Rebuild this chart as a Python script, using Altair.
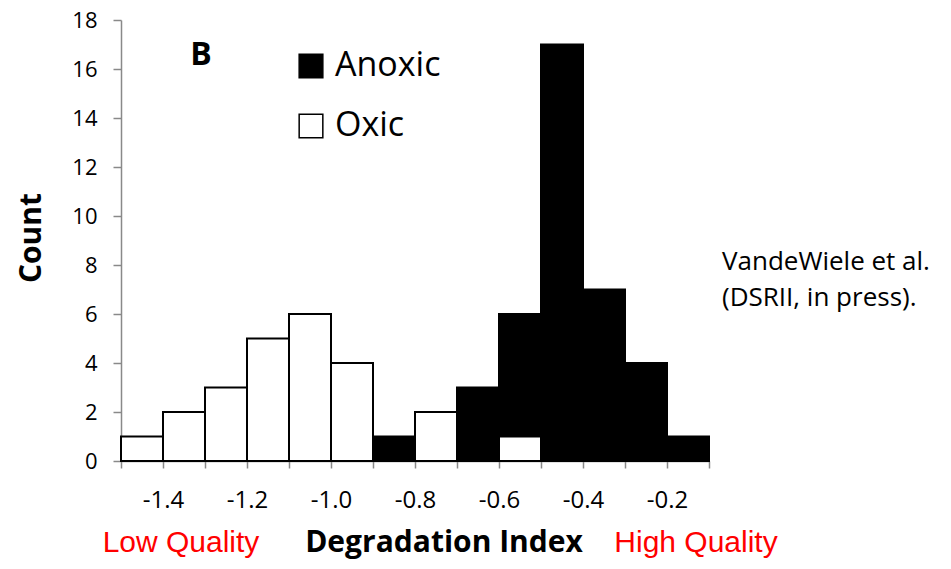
import altair as alt
import pandas as pd

bin_start = [-1.5, -1.4, -1.3, -1.2, -1.1, -1.0, -0.9, -0.8, -0.7, -0.6, -0.5, -0.4, -0.3, -0.2]
anoxic = [0, 0, 0, 0, 0, 0, 1, 0, 3, 6, 17, 7, 4, 1]
oxic = [1, 2, 3, 5, 6, 4, 0, 2, 0, 1, 0, 0, 0, 0]
x_ticks = [-1.5, -1.4, -1.3, -1.2, -1.1, -1.0, -0.9, -0.8, -0.7, -0.6, -0.5, -0.4, -0.3, -0.2, -0.1]
y_ticks = [0, 2, 4, 6, 8, 10, 12, 14, 16, 18]

rows = []
for cond, vals in (("Anoxic", anoxic), ("Oxic", oxic)):
    for s, v in zip(bin_start, vals):
        if v > 0:
            rows.append({"cond": cond, "start": s, "end": round(s + 0.1, 1), "count": v})
df = pd.DataFrame(rows)

W, H = 588, 441
FONT = "Open Sans"

bars = alt.Chart(df).mark_bar(stroke="black", strokeWidth=2).encode(
    x=alt.X("start:Q", scale=alt.Scale(domain=[-1.5, -0.1], nice=False, zero=False),
            axis=alt.Axis(values=x_ticks, title=None, grid=False,
                          labelExpr="(round(datum.value*10) % 2 == 0) ? replace(format(datum.value, '.1f'), '\u2212', '-') : ''",
                          tickSize=7, labelPadding=20, labelFontSize=24, labelFont=FONT,
                          labelColor="black", domainColor="#898989", tickColor="#898989",
                          domainWidth=1.5, tickWidth=1.5, labelFlush=False)),
    x2="end:Q",
    y=alt.Y("count:Q", stack=None, scale=alt.Scale(domain=[0, 18], nice=False),
            axis=alt.Axis(values=y_ticks, title=None, grid=False, tickSize=8,
                          labelPadding=16, labelFontSize=22, labelFont=FONT,
                          labelColor="black", domainColor="#898989", tickColor="#898989",
                          domainWidth=1.5, tickWidth=1.5)),
    y2=alt.Y2(datum=0),
    color=alt.Color("cond:N", scale=alt.Scale(domain=["Anoxic", "Oxic"], range=["black", "white"]),
                    legend=alt.Legend(title=None, orient="none", legendX=173, legendY=29,
                                      symbolType="square", symbolSize=560,
                                      symbolStrokeColor="black", symbolStrokeWidth=1.5,
                                      labelFontSize=34, labelFont=FONT, labelColor="black",
                                      labelOffset=7, rowPadding=26, padding=0)),
)

def txt(s, x, y, size, bold=False, color="black", font=FONT, align="center", angle=0,
        baseline="middle"):
    return alt.Chart(pd.DataFrame({"t": [s]})).mark_text(
        fontSize=size, fontWeight="bold" if bold else "normal", color=color, font=font,
        align=align, baseline=baseline, angle=angle
    ).encode(text="t:N", x=alt.value(x), y=alt.value(y))

layers = [
    bars,
    txt("B", 80, 35, 32, bold=True),
    txt("Count", -89, 218, 30, bold=True, angle=270),
    txt("Degradation Index", 323, 532, 30, bold=True, baseline="alphabetic"),
    txt("Low Quality", 60, 532, 30, color="red", font="Liberation Sans", baseline="alphabetic"),
    txt("High Quality", 575, 532, 30, color="red", font="Liberation Sans", baseline="alphabetic"),
    txt("VandeWiele et al.", 601, 242, 26, align="left"),
    txt("(DSRII, in press).", 601, 278, 26, align="left"),
]

chart = alt.layer(*layers).properties(
    width=W, height=H,
    autosize=alt.AutoSizeParams(type="none"),
    padding={"left": 113, "top": 12, "right": 234, "bottom": 100},
).configure_view(stroke=None)

chart.save("out.html", embed_options={"renderer": "svg", "actions": False})
